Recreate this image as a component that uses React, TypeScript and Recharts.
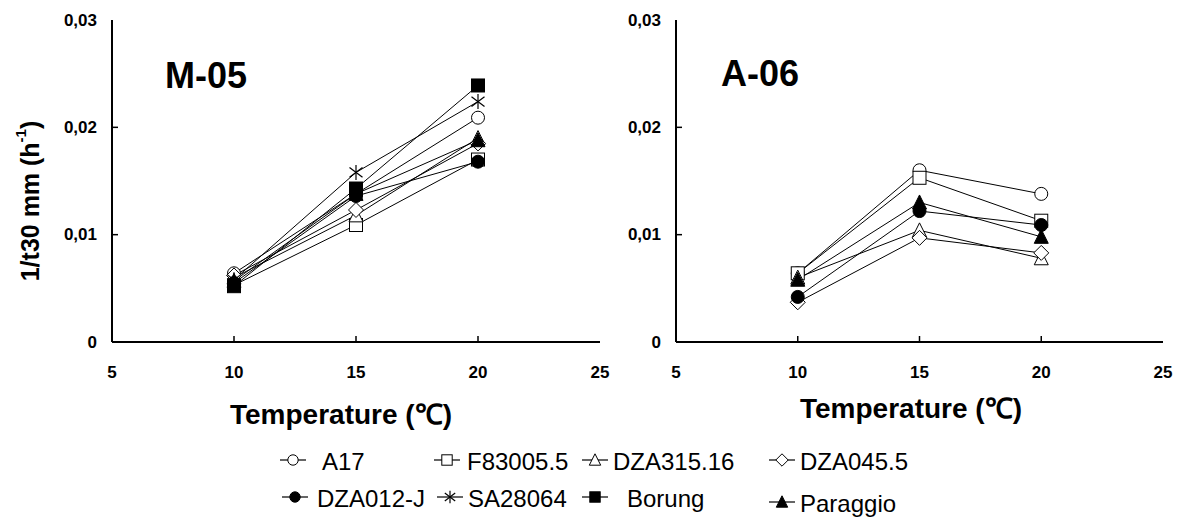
import React from 'react';
import { LineChart, Line, XAxis, YAxis } from 'recharts';

const TEMPS = [10, 15, 20];
const X_TICKS = [5, 10, 15, 20, 25];
const Y_TICKS = [0, 0.01, 0.02, 0.03];

const CULTIVARS = ['A17', 'F83005.5', 'DZA315.16', 'DZA045.5', 'DZA012-J', 'SA28064', 'Borung', 'Paraggio'];
const SYMBOLS = ['circle', 'square', 'triangle', 'diamond', 'circleFilled', 'star', 'squareFilled', 'triangleFilled'];

// M-05
const M05_A17 = [0.0064, 0.0138, 0.0209];
const M05_F83005 = [0.0053, 0.0109, 0.017];
const M05_DZA315 = [0.006, 0.0118, 0.019];
const M05_DZA045 = [0.0062, 0.0123, 0.0185];
const M05_DZA012 = [0.0055, 0.0136, 0.0168];
const M05_SA28064 = [0.0058, 0.0158, 0.0224];
const M05_BORUNG = [0.0052, 0.0143, 0.0239];
const M05_PARAGGIO = [0.0057, 0.0138, 0.0188];

// A-06 (SA28064 and Borung not shown)
const A06_A17 = [0.0064, 0.016, 0.0138];
const A06_F83005 = [0.0064, 0.0153, 0.0113];
const A06_DZA315 = [0.006, 0.0104, 0.0078];
const A06_DZA045 = [0.0037, 0.0097, 0.0083];
const A06_DZA012 = [0.0042, 0.0122, 0.0109];
const A06_PARAGGIO = [0.0058, 0.013, 0.0098];

const M05_SERIES = [M05_A17, M05_F83005, M05_DZA315, M05_DZA045, M05_DZA012, M05_SA28064, M05_BORUNG, M05_PARAGGIO];
const A06_SERIES = [A06_A17, A06_F83005, A06_DZA315, A06_DZA045, A06_DZA012, null, null, A06_PARAGGIO];

const FONT = '"Liberation Sans", Arial, sans-serif';

function buildRows(series: (number[] | null)[]) {
  return TEMPS.map((t, i) => {
    const row: any = { temp: t };
    series.forEach((s, k) => {
      if (s) row[CULTIVARS[k]] = s[i];
    });
    return row;
  });
}

function Marker({ shape, cx, cy, s = 1 }: { shape: string; cx: number; cy: number; s?: number }) {
  const open = { fill: '#fff', stroke: '#000', strokeWidth: 1 };
  const solid = { fill: '#000', stroke: '#000', strokeWidth: 1 };
  const r = 6.5 * s;
  switch (shape) {
    case 'circle':
      return <circle cx={cx} cy={cy} r={r} {...open} />;
    case 'circleFilled':
      return <circle cx={cx} cy={cy} r={r} {...solid} />;
    case 'square':
      return <rect x={cx - r} y={cy - r} width={2 * r} height={2 * r} {...open} />;
    case 'squareFilled':
      return <rect x={cx - r} y={cy - r} width={2 * r} height={2 * r} {...solid} />;
    case 'triangle':
      return <polygon points={`${cx},${cy - r - 1} ${cx + r + 0.5},${cy + r} ${cx - r - 0.5},${cy + r}`} {...open} />;
    case 'triangleFilled':
      return <polygon points={`${cx},${cy - r - 1} ${cx + r + 0.5},${cy + r} ${cx - r - 0.5},${cy + r}`} {...solid} />;
    case 'diamond':
      return <polygon points={`${cx},${cy - r - 1} ${cx + r + 1},${cy} ${cx},${cy + r + 1} ${cx - r - 1},${cy}`} {...open} />;
    case 'star':
      return (
        <g stroke="#000" strokeWidth={1.2}>
          <line x1={cx} y1={cy - r - 1} x2={cx} y2={cy + r + 1} />
          <line x1={cx - r} y1={cy - r * 0.75} x2={cx + r} y2={cy + r * 0.75} />
          <line x1={cx - r} y1={cy + r * 0.75} x2={cx + r} y2={cy - r * 0.75} />
        </g>
      );
    default:
      return null;
  }
}

const XTick = (props: any) => {
  const { x, y, payload } = props;
  const v = payload.value;
  return (
    <g>
      {v !== 5 && v !== 25 && <line x1={x} y1={y} x2={x} y2={y - 6} stroke="#000" strokeWidth={1.5} />}
      <text x={x} y={y + 30} textAnchor="middle" dominantBaseline="central" fontFamily={FONT} fontWeight="bold" fontSize={17} fill="#000">
        {v}
      </text>
    </g>
  );
};

const YTick = (props: any) => {
  const { x, y, payload } = props;
  const v = payload.value;
  const label = v === 0 ? '0' : v.toFixed(2).replace('.', ',');
  return (
    <g>
      {v !== 0 && v !== 0.03 && <line x1={x} y1={y} x2={x + 6} y2={y} stroke="#000" strokeWidth={1.5} />}
      <text x={x - 15} y={y} textAnchor="end" dominantBaseline="central" fontFamily={FONT} fontWeight="bold" fontSize={17} fill="#000">
        {label}
      </text>
    </g>
  );
};

function Panel({ series, left, width, margin }: any) {
  const rows = buildRows(series);
  return (
    <div style={{ position: 'absolute', left, top: 0 }}>
      <LineChart width={width} height={400} data={rows} margin={margin}>
        <XAxis dataKey="temp" type="number" domain={[5, 25]} ticks={X_TICKS} tick={<XTick />} tickSize={0} tickMargin={0} height={58} axisLine={{ stroke: '#000', strokeWidth: 2 }} tickLine={false} />
        <XAxis xAxisId="top" orientation="top" type="number" domain={[5, 25]} height={0} tick={false} tickLine={false} axisLine={{ stroke: '#000', strokeWidth: 2 }} />
        <YAxis type="number" domain={[0, 0.03]} ticks={Y_TICKS} tick={<YTick />} tickSize={0} tickMargin={0} width={60} axisLine={{ stroke: '#000', strokeWidth: 2 }} tickLine={false} />
        <YAxis yAxisId="right" orientation="right" type="number" domain={[0, 0.03]} width={0} tick={false} tickLine={false} axisLine={{ stroke: '#000', strokeWidth: 2 }} />
        {CULTIVARS.map((name, k) =>
          series[k] ? (
            <Line
              key={name}
              type="linear"
              dataKey={name}
              stroke="#000"
              strokeWidth={1}
              isAnimationActive={false}
              activeDot={false}
              dot={(p: any) => (
                <g key={`${name}-${p.index}`}>
                  <Marker shape={SYMBOLS[k]} cx={p.cx} cy={p.cy} />
                </g>
              )}
            />
          ) : null
        )}
      </LineChart>
    </div>
  );
}

// legend layout: icon centre x, text x, row y
const LEGEND_POS = [
  [293, 322, 460],
  [447, 467, 460],
  [595, 613, 460],
  [782, 800, 460],
  [295, 317, 497],
  [450, 468, 497],
  [595, 627, 497],
  [782, 800, 502],
];

export default function App() {
  return (
    <div style={{ position: 'absolute', left: 0, top: 0, width: 1178, height: 520, background: '#fff', fontFamily: FONT }}>
      <Panel series={M05_SERIES} left={0} width={610} margin={{ top: 20, right: 10, left: 52, bottom: 0 }} />
      <Panel series={A06_SERIES} left={600} width={578} margin={{ top: 20, right: 15, left: 16, bottom: 0 }} />
      <svg width={1178} height={520} style={{ position: 'absolute', left: 0, top: 0, pointerEvents: 'none' }}>
        <text x={165} y={88} fontFamily={FONT} fontWeight="bold" fontSize={36} fill="#000">M-05</text>
        <text x={721} y={86} fontFamily={FONT} fontWeight="bold" fontSize={36} fill="#000">A-06</text>
        <text transform="translate(30,201) rotate(-90)" textAnchor="middle" dominantBaseline="central" fontFamily={FONT} fontWeight="bold" fontSize={25} fill="#000">
          1/t30 mm (h<tspan fontSize={15} dy={-10}>-1</tspan><tspan dy={10}>)</tspan>
        </text>
        <text x={341} y={414} textAnchor="middle" dominantBaseline="central" fontFamily={FONT} fontWeight="bold" fontSize={28} fill="#000">Temperature (℃)</text>
        <text x={911} y={408} textAnchor="middle" dominantBaseline="central" fontFamily={FONT} fontWeight="bold" fontSize={28} fill="#000">Temperature (℃)</text>
        {CULTIVARS.map((name, k) => {
          const [ix, tx, y] = LEGEND_POS[k];
          return (
            <g key={name}>
              <line x1={ix - 13} y1={y} x2={ix + 13} y2={y} stroke="#000" strokeWidth={1.2} />
              <Marker shape={SYMBOLS[k]} cx={ix} cy={y} s={0.8} />
              <text x={tx} y={y + 1} dominantBaseline="central" fontFamily={FONT} fontSize={24} fill="#000">{name}</text>
            </g>
          );
        })}
      </svg>
    </div>
  );
}
